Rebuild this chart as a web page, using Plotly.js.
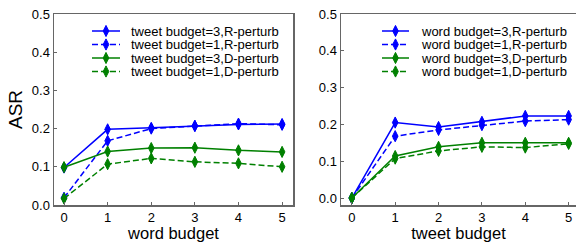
<!DOCTYPE html>
<html>
<head>
<meta charset="utf-8">
<script src="https://cdn.plot.ly/plotly-3.0.1.min.js"></script>
<style>html,body{margin:0;padding:0;background:#fff;}#chart{width:576px;height:242px;}</style>
</head>
<body>
<div id="chart"></div>
<script>
// ---- data ----
var budgets = [0, 1, 2, 3, 4, 5];

// left panel: x = word budget
var leftNames = ["tweet budget=3,R-perturb", "tweet budget=1,R-perturb", "tweet budget=3,D-perturb", "tweet budget=1,D-perturb"];
var tweet3R = [0.098, 0.198, 0.202, 0.207, 0.211, 0.212];
var tweet1R = [0.019, 0.168, 0.200, 0.207, 0.213, 0.210];
var tweet3D = [0.099, 0.140, 0.149, 0.150, 0.143, 0.139];
var tweet1D = [0.017, 0.107, 0.122, 0.113, 0.109, 0.100];

// right panel: x = tweet budget
var rightNames = ["word budget=3,R-perturb", "word budget=1,R-perturb", "word budget=3,D-perturb", "word budget=1,D-perturb"];
var word3R = [0.000, 0.205, 0.193, 0.207, 0.223, 0.223];
var word1R = [0.000, 0.168, 0.185, 0.198, 0.209, 0.213];
var word3D = [0.000, 0.114, 0.139, 0.150, 0.150, 0.150];
var word1D = [0.000, 0.107, 0.128, 0.139, 0.137, 0.147];

var yTicks = [0.0, 0.1, 0.2, 0.3, 0.4, 0.5];
var yTickText = ["0.0", "0.1", "0.2", "0.3", "0.4", "0.5"];

// ---- styles ----
var colors = ["#0000ff", "#0000ff", "#008000", "#008000"];
var dashes = ["solid", "6px,3px", "solid", "6px,3px"];
var FONT = "Liberation Sans, Arial, sans-serif";

var W = 576, H = 242, MT = 14, MB = 37;
var plotH = H - MT - MB;
function px2x(px) { return px / W; }
function py2y(py) { return (H - MB - py) / plotH; }

var leftSeries = [tweet3R, tweet1R, tweet3D, tweet1D];
var rightSeries = [word3R, word1R, word3D, word1D];

var traces = [];
function addTraces(series, xa, ya) {
  series.forEach(function (vals, i) {
    traces.push({
      x: budgets, y: vals, xaxis: xa, yaxis: ya,
      type: "scatter", mode: "lines+markers", showlegend: false,
      line: { color: colors[i], width: 1.5, dash: dashes[i] },
      marker: { symbol: "diamond-tall", size: 8, color: colors[i], line: { color: colors[i], width: 1 } },
      hoverinfo: "x+y"
    });
  });
}
addTraces(leftSeries, "x", "y");
addTraces(rightSeries, "x2", "y2");

// ---- custom compact legends ----
var shapes = [], annotations = [];
var rowY = [31, 44.5, 58, 71.5];
function addLegend(names, lineX0, lineX1, textX) {
  names.forEach(function (name, i) {
    var yy = py2y(rowY[i]);
    shapes.push({ type: "line", xref: "paper", yref: "paper", x0: px2x(lineX0), x1: px2x(lineX1), y0: yy, y1: yy,
      line: { color: colors[i], width: 1.5, dash: dashes[i] } });
    shapes.push({ type: "path", xref: "paper", yref: "paper", xsizemode: "pixel", ysizemode: "pixel",
      xanchor: px2x((lineX0 + lineX1) / 2), yanchor: yy,
      path: "M0,5.6 L2.8,0 L0,-5.6 L-2.8,0 Z",
      fillcolor: colors[i], line: { color: colors[i], width: 1 } });
    annotations.push({ xref: "paper", yref: "paper", x: px2x(textX), y: yy, xanchor: "left", yanchor: "middle",
      text: name, showarrow: false, font: { family: FONT, size: 13, color: "#000" } });
  });
}
addLegend(leftNames, 92, 120, 129);
addLegend(rightNames, 382, 409, 419);

var axisCommon = {
  showline: true, linecolor: "#666", linewidth: 1.5, mirror: true,
  ticks: "inside", ticklen: 3, tickcolor: "#666", tickwidth: 1,
  showgrid: false, zeroline: false,
  tickfont: { family: FONT, size: 13, color: "#000" }
};
function ax(extra) { return Object.assign({}, axisCommon, extra); }

var layout = {
  width: W, height: H,
  margin: { l: 0, r: 0, t: MT, b: MB, pad: 0 },
  paper_bgcolor: "#fff", plot_bgcolor: "#fff",
  showlegend: false,
  xaxis: ax({ domain: [54 / W, 293 / W], range: [-0.23, 5.25], tickvals: budgets, anchor: "y",
    title: { text: "word budget", font: { family: FONT, size: 16.5, color: "#000" }, standoff: 3 } }),
  yaxis: ax({ domain: [0, 1], range: [0, 0.5], tickvals: yTicks, ticktext: yTickText, anchor: "x",
    title: { text: "ASR", font: { family: FONT, size: 19, color: "#000" }, standoff: 4 } }),
  xaxis2: ax({ domain: [341 / W, 1], range: [-0.25, 5.17], tickvals: budgets, anchor: "y2",
    title: { text: "tweet budget", font: { family: FONT, size: 16.5, color: "#000" }, standoff: 3 } }),
  yaxis2: ax({ domain: [0, 1], range: [-0.019, 0.5], tickvals: yTicks, ticktext: yTickText, anchor: "x2" }),
  shapes: shapes,
  annotations: annotations
};

Plotly.newPlot("chart", traces, layout, { staticPlot: true, displayModeBar: false });
</script>
</body>
</html>
